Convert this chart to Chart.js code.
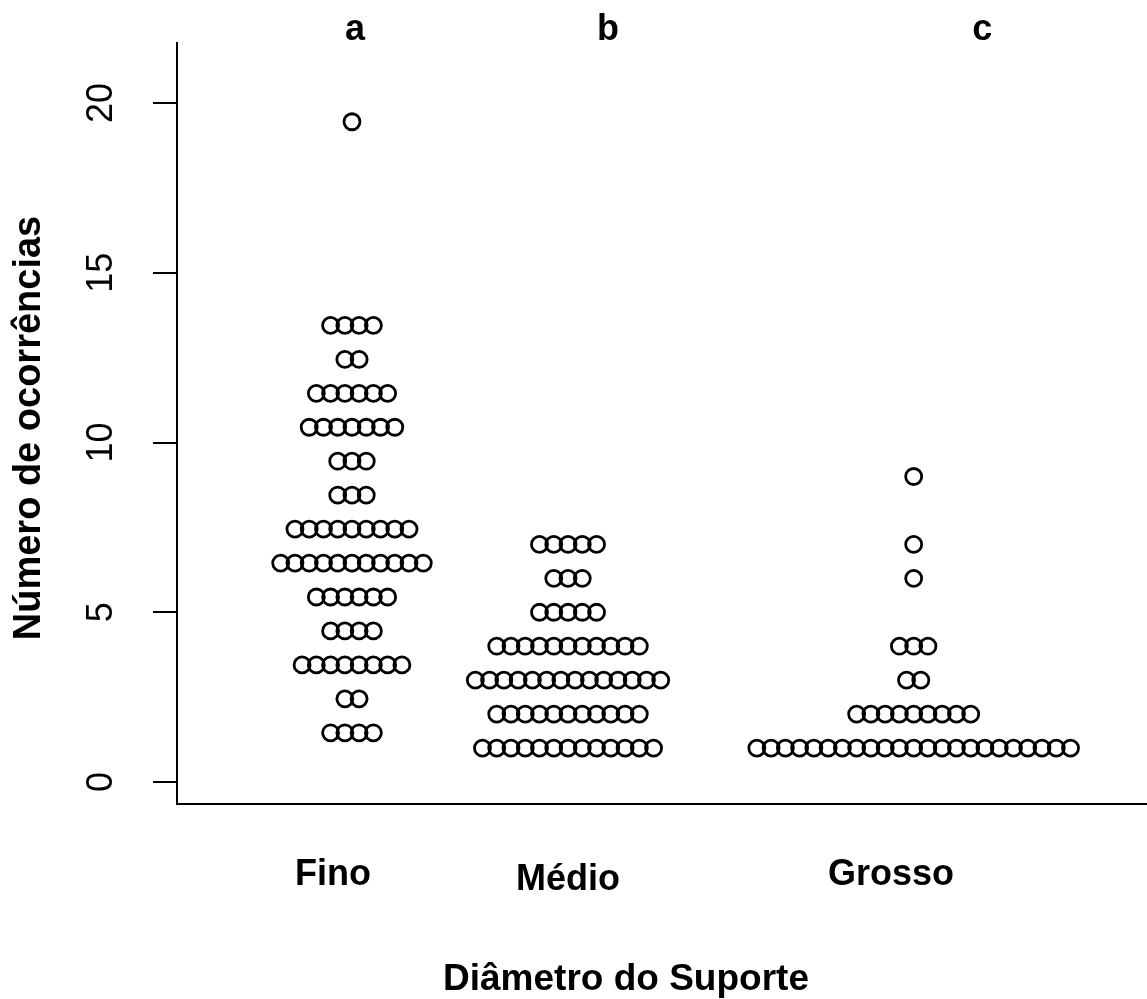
<!DOCTYPE html>
<html>
<head>
<meta charset="utf-8">
<script src="https://cdn.jsdelivr.net/npm/chart.js@4/dist/chart.umd.min.js"></script>
<style>
  html, body { margin: 0; padding: 0; background: #fff; }
  #wrap { width: 1147px; height: 999px; }
</style>
</head>
<body>
<div id="wrap"><canvas id="myChart" width="1147" height="999"></canvas></div>
<script>
// group names and significance letters
const categories = ['Fino', 'Médio', 'Grosso'];
const letters = ['a', 'b', 'c'];

// stacked values per group: value -> how many points sit on that row
const finoValues = [1.45, 2.45, 3.45, 4.45, 5.45, 6.45, 7.45, 8.45, 9.45, 10.45, 11.45, 12.45, 13.45, 19.45];
const finoCounts = [4, 2, 8, 4, 6, 11, 9, 3, 3, 7, 6, 2, 4, 1];
const medioValues = [1, 2, 3, 4, 5, 6, 7];
const medioCounts = [13, 11, 14, 11, 5, 3, 5];
const grossoValues = [1, 2, 3, 4, 6, 7, 9];
const grossoCounts = [23, 9, 2, 3, 1, 1, 1];

const yTicks = [0, 5, 10, 15, 20];

// x placement of groups / labels (axis units)
const groupAt = [1, 2, 3.6];
const labelAt = [0.912, 2.0, 3.495];
const letterAt = [1.014, 2.185, 3.917];
const stackStep = 0.066;

const FONT = '"Liberation Sans", Arial, Helvetica, sans-serif';

function stackPoints(values, counts, center) {
  const pts = [];
  values.forEach((v, i) => {
    const n = counts[i];
    for (let k = 0; k < n; k++) {
      pts.push({ x: center + (k - (n - 1) / 2) * stackStep, y: v });
    }
  });
  return pts;
}

const groups = [
  stackPoints(finoValues, finoCounts, groupAt[0]),
  stackPoints(medioValues, medioCounts, groupAt[1]),
  stackPoints(grossoValues, grossoCounts, groupAt[2]),
];

const textPlugin = {
  id: 'rText',
  afterDraw(chart) {
    const ctx = chart.ctx;
    const xs = chart.scales.x, ys = chart.scales.y;
    ctx.save();
    ctx.fillStyle = '#000';

    // y tick labels, rotated like base R
    ctx.font = '36px ' + FONT;
    ctx.textAlign = 'center';
    ctx.textBaseline = 'middle';
    yTicks.forEach(t => {
      ctx.save();
      ctx.translate(102, ys.getPixelForValue(t));
      ctx.rotate(-Math.PI / 2);
      ctx.fillText(String(t), 0, 0);
      ctx.restore();
    });

    // y title
    ctx.font = 'bold 38px ' + FONT;
    ctx.save();
    ctx.translate(30, 428);
    ctx.rotate(-Math.PI / 2);
    ctx.fillText('Número de ocorrências', 0, 0);
    ctx.restore();

    // category labels under axis
    ctx.font = 'bold 36px ' + FONT;
    ctx.textBaseline = 'alphabetic';
    const labelY = [885, 890, 885];
    categories.forEach((c, i) => {
      ctx.fillText(c, xs.getPixelForValue(labelAt[i]), labelY[i]);
    });

    // letters on top
    letters.forEach((l, i) => {
      ctx.fillText(l, xs.getPixelForValue(letterAt[i]), 40);
    });

    // x title
    ctx.font = 'bold 37px ' + FONT;
    ctx.fillText('Diâmetro do Suporte', 626, 990);
    ctx.restore();
  }
};

const pointStyle = {
  pointStyle: 'circle',
  pointRadius: 8,
  pointHoverRadius: 8,
  pointBorderWidth: 2.8,
  pointBorderColor: '#000',
  pointBackgroundColor: 'rgba(0,0,0,0)',
  showLine: false,
};

new Chart('myChart', {
  type: 'scatter',
  data: {
    datasets: categories.map((c, i) => Object.assign({ label: c, data: groups[i] }, pointStyle)),
  },
  options: {
    responsive: false,
    animation: false,
    devicePixelRatio: 1,
    layout: { autoPadding: false, padding: { top: 43, left: 0, right: 0, bottom: 0 } },
    scales: {
      x: {
        type: 'linear',
        min: 0.19,
        max: 4.68,
        grid: { display: false },
        ticks: { display: false },
        border: { display: true, color: '#000', width: 2 },
        afterFit(scale) { scale.height = 195; },
      },
      y: {
        type: 'linear',
        min: -0.648,
        max: 21.77,
        afterBuildTicks(scale) { scale.ticks = yTicks.map(v => ({ value: v })); },
        grid: {
          display: true,
          drawOnChartArea: false,
          drawTicks: true,
          tickLength: 24,
          color: '#000',
          lineWidth: 2,
        },
        ticks: { display: false },
        border: { display: true, color: '#000', width: 2 },
        afterFit(scale) { scale.width = 177; },
      },
    },
    plugins: {
      legend: { display: false },
      tooltip: { enabled: false },
    },
  },
  plugins: [textPlugin],
});
</script>
</body>
</html>
